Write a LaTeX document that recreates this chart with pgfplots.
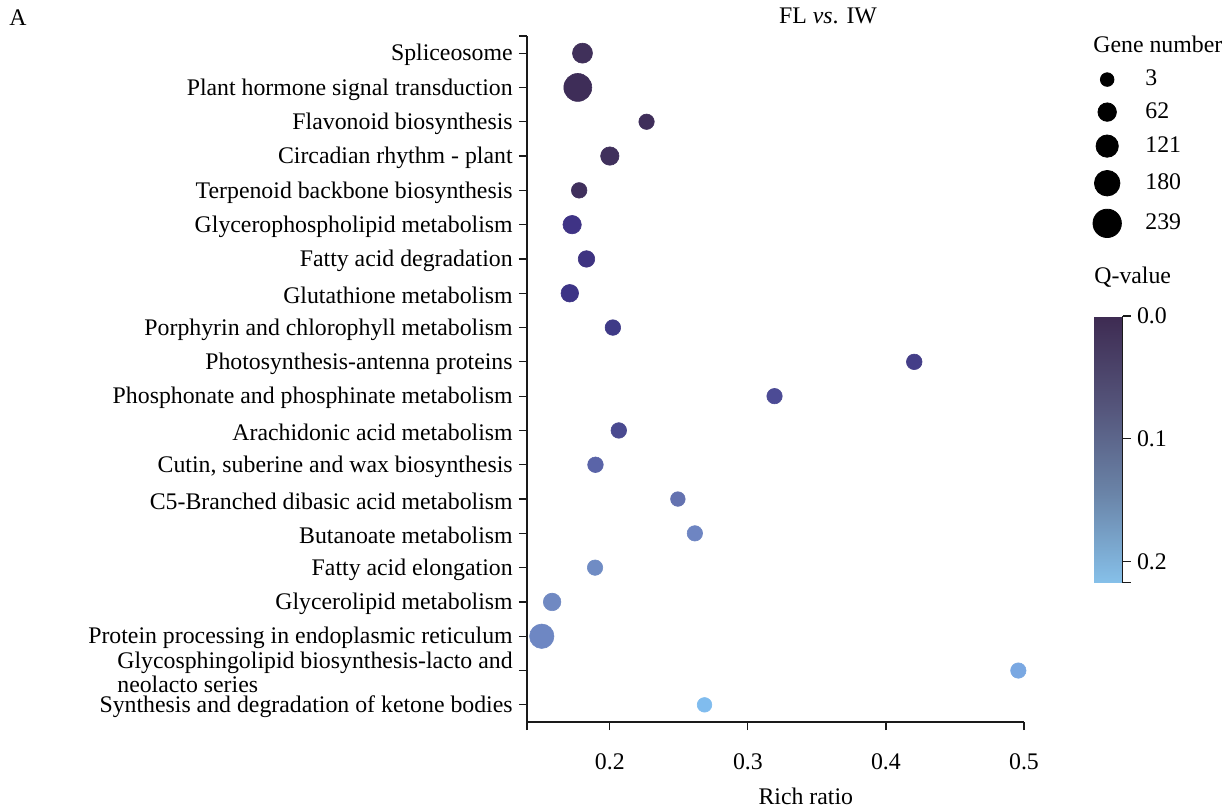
\documentclass[border=0pt]{standalone}
\usepackage{pgfplots}
\pgfplotsset{compat=1.18}
\usepackage{pgfplotstable}
\usepackage{fontspec}
\setmainfont{Liberation Serif}

\definecolor{axisgray}{HTML}{1A1A1A}

% KEGG enrichment: rich ratio, gene number, Q-value and dot colour (RGB) per pathway
\pgfplotstableread{
idx ratio  genes q     cr  cg  cb
1   0.1802 85    0.001 64  48  90
2   0.1768 230   0.001 62  45  88
3   0.2266 23    0.002 63  46  90
4   0.2000 61    0.004 64  48  92
5   0.1778 25    0.005 64  48  93
6   0.1727 61    0.015 63  51  133
7   0.1831 37    0.018 62  51  129
8   0.1710 50    0.020 61  52  134
9   0.2022 25    0.025 63  58  135
10  0.4205 25    0.030 68  62  136
11  0.3193 23    0.045 76  75  149
12  0.2065 25    0.050 74  74  144
13  0.1896 25    0.080 90  100 168
14  0.2493 14    0.100 100 114 176
15  0.2616 23    0.120 110 133 194
16  0.1893 23    0.125 112 140 196
17  0.1582 50    0.130 112 137 194
18  0.1507 159   0.130 110 135 195
19  0.4959 23    0.180 122 168 226
20  0.2686 14    0.200 128 188 238
}\pathwaydata

\pgfplotsset{
  sizekey/.style={black, only marks, mark=*, mark size=#1,
    legend image code/.code={\draw[##1] plot coordinates {(0pt,0pt)};}},
}

\begin{document}
\fontsize{11.9}{13}\selectfont
\begin{tikzpicture}
\begin{axis}[
  scale only axis, width=248.5pt, height=343pt,
  xmin=0.14, xmax=0.5, ymin=0.5, ymax=20.5, y dir=reverse,
  axis x line*=bottom, axis y line*=left,
  axis line style={axisgray, line width=0.6pt},
  every tick/.style={axisgray, line width=0.6pt},
  tick align=outside, major tick length=4pt,
  xtick={0.2,0.3,0.4,0.5}, xticklabels={0.2,0.3,0.4,0.5},
  extra x ticks={0.14}, extra x tick labels={},
  extra y ticks={0.5}, extra y tick labels={},
  ytick={1,...,20},
  yticklabels={
    {Spliceosome},
    {Plant hormone signal transduction},
    {Flavonoid biosynthesis},
    {Circadian rhythm - plant},
    {Terpenoid backbone biosynthesis},
    {Glycerophospholipid metabolism},
    {Fatty acid degradation},
    {Glutathione metabolism},
    {Porphyrin and chlorophyll metabolism},
    {Photosynthesis-antenna proteins},
    {Phosphonate and phosphinate metabolism},
    {Arachidonic acid metabolism},
    {Cutin, suberine and wax biosynthesis},
    {C5-Branched dibasic acid metabolism},
    {Butanoate metabolism},
    {Fatty acid elongation},
    {Glycerolipid metabolism},
    {Protein processing in endoplasmic reticulum},
    {Glycosphingolipid biosynthesis-lacto and\\neolacto series},
    {Synthesis and degradation of ketone bodies}},
  yticklabel style={align=left, font=\fontsize{11.9}{12}\selectfont, xshift=1pt, yshift=-1pt},
  xticklabel style={font=\fontsize{11.9}{13}\selectfont, yshift=-7.75pt},
  xlabel={Rich ratio},
  xlabel style={at={(axis description cs:0.561,0)}, anchor=center, yshift=-37pt,
    font=\fontsize{11.9}{13}\selectfont},
  colormap={qvalue}{rgb255=(62,43,82) rgb255=(84,84,122) rgb255=(106,132,168) rgb255=(134,192,233)},
  point meta min=0, point meta max=0.217,
  colorbar,
  colorbar style={
    at={(parent axis.north east)}, anchor=north west,
    xshift=26.5pt, yshift=-140pt,
    scale only axis, width=14.3pt, height=133.3pt,
    y dir=reverse,
    ytick={0,0.1,0.2}, yticklabels={0.0,0.1,0.2},
    extra y ticks={0.217}, extra y tick labels={},
    axis x line=none, axis y line*=right,
    axis line style={axisgray, line width=0.6pt},
    every tick/.style={axisgray, line width=0.6pt},
    tick align=outside, major tick length=4pt,
    yticklabel style={font=\fontsize{11.9}{13}\selectfont, xshift=-1pt},
  },
  legend style={at={(axis description cs:1,1)}, anchor=north west,
    xshift=34.5pt, yshift=-16.95pt, draw=none, fill=none,
    inner sep=0pt, outer sep=0pt, row sep=6.6pt, column sep=3.5pt,
    nodes={inner sep=0pt}, font=\fontsize{11.9}{13}\selectfont},
  legend cell align=left,
  clip=false,
]
% dot radius grows with the square root of the gene number
\addplot[scatter, only marks, mark=*, forget plot,
  mark options={line width=0.3pt},
  point meta=\thisrow{q},
  visualization depends on={0.5*sqrt(46.2+0.6585*(\thisrow{genes}-3)) \as \msize},
  visualization depends on={\thisrow{cr} \as \colR},
  visualization depends on={\thisrow{cg} \as \colG},
  visualization depends on={\thisrow{cb} \as \colB},
  scatter/@pre marker code/.append style={/tikz/mark size=\msize},
  scatter/@pre marker code/.append code={%
    \pgfmathtruncatemacro\valR{\colR}%
    \pgfmathtruncatemacro\valG{\colG}%
    \pgfmathtruncatemacro\valB{\colB}%
    \definecolor{dotcolor}{RGB}{\valR,\valG,\valB}%
    \pgfsetfillcolor{dotcolor}\pgfsetstrokecolor{dotcolor}},
] table[x=ratio, y=idx] \pathwaydata;

\addlegendimage{sizekey=3.40pt}
\addlegendimage{sizekey=4.61pt}
\addlegendimage{sizekey=5.57pt}
\addlegendimage{sizekey=6.38pt}
\addlegendimage{sizekey=7.10pt}
\legend{\hspace*{8.5pt}3,\hspace*{8.5pt}62,\hspace*{8.5pt}121,\hspace*{8.5pt}180,\hspace*{8.5pt}239}
\end{axis}

\node[anchor=center] at (-254.5pt,352pt) {A};
\node[anchor=center] at (150.5pt,353pt) {FL \textit{vs}. IW};
\node[anchor=west, inner sep=0pt] at (283pt,339pt) {Gene number};
\node[anchor=west, inner sep=0pt] at (283.5pt,222.5pt) {Q-value};

\pgfresetboundingbox
\path[use as bounding box] (-263.5pt,-43pt) rectangle (350.5pt,361pt);
\end{tikzpicture}
\end{document}
